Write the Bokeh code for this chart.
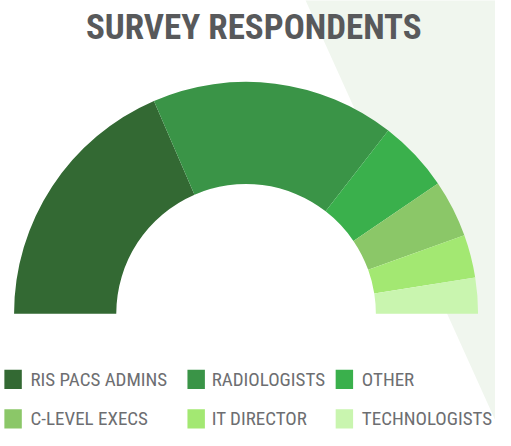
import numpy as np
from bokeh.plotting import figure
from bokeh.models import Range1d, ColumnDataSource
from bokeh.core.properties import value
from bokeh.embed import file_html
from bokeh.resources import INLINE

# ---- data ----
categories = ["RIS PACS ADMINS", "RADIOLOGISTS", "OTHER",
              "C-LEVEL EXECS", "IT DIRECTOR", "TECHNOLOGISTS"]
shares = [37, 34, 10, 8, 6, 5]
colors = ["#336933", "#3A9447", "#3AB04C", "#8BC768", "#A3E872", "#C9F5AF"]
title_text = "SURVEY RESPONDENTS"

FONT = "'Roboto Condensed', 'DejaVu Sans Condensed', sans-serif"

# ---- layout (reference pixel coordinates, y measured from top) ----
REF_W, REF_H = 511, 446
def Y(v):
    return REF_H - v

p = figure(width=495, height=430, x_range=Range1d(0, REF_W), y_range=Range1d(0, REF_H),
           x_axis_type=None, y_axis_type=None, toolbar_location=None,
           output_backend="svg", min_border=0, outline_line_color=None,
           background_fill_color="white", border_fill_color="white")
p.grid.visible = False

# faint background triangle
bx = [310.5, 530, 530, 520]
by = [Y(-10), Y(-10), Y(456), Y(456)]
p.patch(bx, by, fill_color="#F0F6EE", line_color=None)

# half donut
total = float(sum(shares))
cum = np.concatenate([[0], np.cumsum(shares)]) / total
start = np.pi - cum[:-1] * np.pi
end = np.pi - cum[1:] * np.pi
src = ColumnDataSource(dict(start=start, end=end, color=colors, cat=categories))
cx, cy = 253.5, Y(325)
p.annular_wedge(x=cx, y=cy, inner_radius=134, outer_radius=239.5,
                start_angle="start", end_angle="end", direction="clock",
                fill_color="color", line_color=None, source=src)

# title
p.text(x=[261.5], y=[Y(28)], text=[title_text], text_align="center",
       text_baseline="middle", text_font=value(FONT),
       text_font_style="bold", text_font_size="35px", text_color="#58595B")

# legend (3 columns x 2 rows)
col_sq_x = [4, 193, 346]
col_tx_x = [31, 218, 373]
row_cy = [393, 434]
n = len(categories)
sq_x = [col_sq_x[i % 3] + 9 for i in range(n)]
sq_y = [Y(row_cy[i // 3]) for i in range(n)]
tx_x = [col_tx_x[i % 3] for i in range(n)]
tx_y = [Y(row_cy[i // 3]) for i in range(n)]
p.rect(x=sq_x, y=sq_y, width=18, height=20, fill_color=colors, line_color=None)
p.text(x=tx_x, y=tx_y, text=categories, text_align="left", text_baseline="middle",
       text_font=value(FONT), text_font_size="19px",
       text_color="#6D6E71")

open("out.html", "w").write(file_html(p, INLINE))
